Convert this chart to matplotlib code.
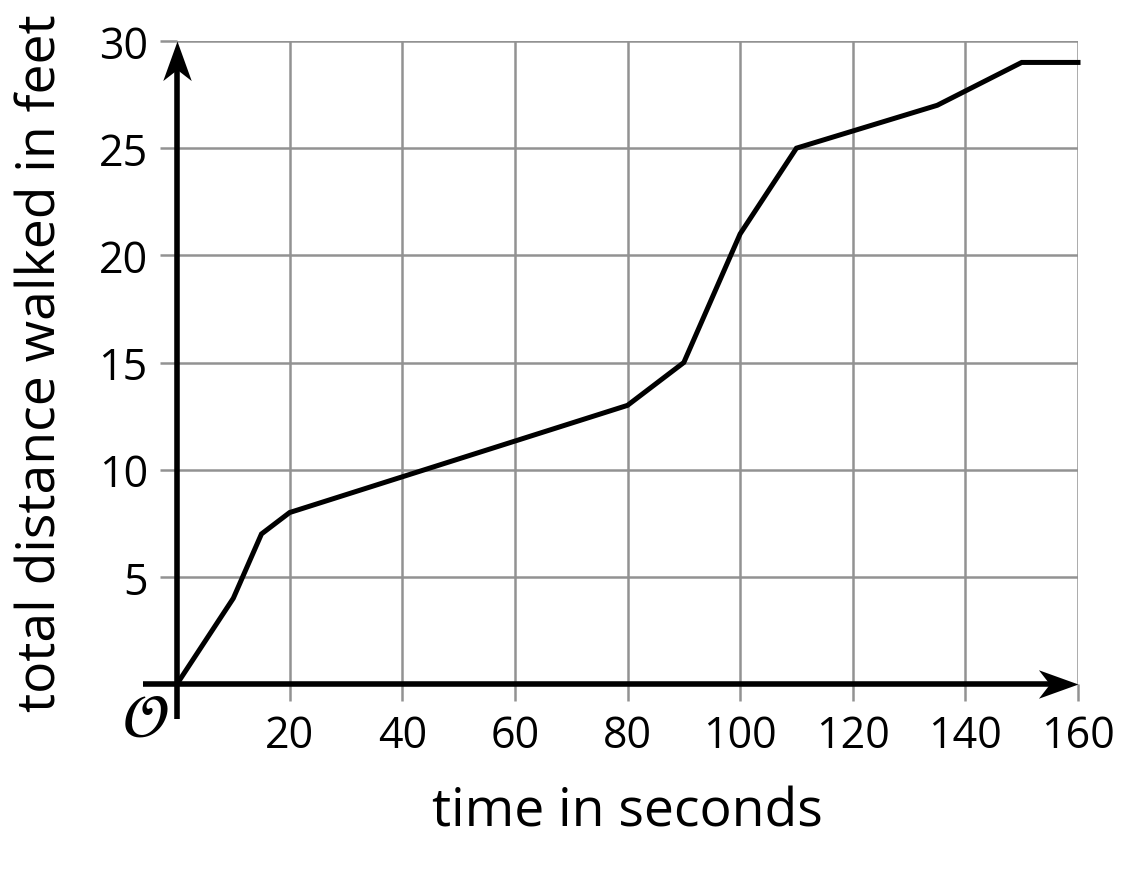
import matplotlib
matplotlib.use("Agg")
import matplotlib.pyplot as plt
from matplotlib.path import Path

plt.rcParams['font.family'] = ['Open Sans', 'DejaVu Sans']

time_s = [0, 10, 15, 20, 80, 90, 100, 110, 135, 150, 160]
distance_ft = [0, 4, 7, 8, 13, 15, 21, 25, 27, 29, 29]
x_ticks = [20, 40, 60, 80, 100, 120, 140, 160]
y_ticks = [5, 10, 15, 20, 25, 30]
x_label = "time in seconds"
y_label = "total distance walked in feet"

fig = plt.figure(figsize=(11.48, 8.7), dpi=100)
ax = fig.add_axes([177/1148, 1 - 685/870, (1078 - 177)/1148, (685 - 42)/870])
ax.set_xlim(0, 160)
ax.set_ylim(0, 30)

for s in ax.spines.values():
    s.set_visible(False)

grid_c = '#929292'
for xv in x_ticks:
    ax.axvline(xv, color=grid_c, lw=1.8, zorder=1)
for yv in y_ticks:
    ax.axhline(yv, color=grid_c, lw=1.8, zorder=1)

ax.set_xticks(x_ticks)
ax.set_yticks(y_ticks)
ax.tick_params(axis='both', direction='out', length=12, width=1.8, color=grid_c,
               labelsize=31, pad=9)

# axes lines
ax.plot([-6, 157], [0, 0], color='black', lw=4, solid_capstyle='butt', clip_on=False, zorder=4)
ax.plot([0, 0], [-1.63, 29.3], color='black', lw=4, solid_capstyle='butt', clip_on=False, zorder=4)

# notched arrowheads (tip at origin of marker path)
hx = Path([(0, 0), (-1, 0.36), (-0.72, 0), (-1, -0.36), (0, 0)],
          [Path.MOVETO, Path.LINETO, Path.LINETO, Path.LINETO, Path.CLOSEPOLY])
hy = Path([(0, 0), (0.36, -1), (0, -0.72), (-0.36, -1), (0, 0)],
          [Path.MOVETO, Path.LINETO, Path.LINETO, Path.LINETO, Path.CLOSEPOLY])
ax.plot([160], [0], marker=hx, markersize=57, color='black', markeredgewidth=0,
        clip_on=False, zorder=6)
ax.plot([0], [30], marker=hy, markersize=57, color='black', markeredgewidth=0,
        clip_on=False, zorder=6)

ax.plot(time_s, distance_ft, color='black', lw=3.6, solid_joinstyle='miter', zorder=5,
        clip_on=False)

ax.text(-5.6, -1.65, r'$\mathcal{O}$', fontsize=44, ha='center', va='center')

ax.set_xlabel(x_label, fontsize=38.5, labelpad=20)
ax.set_ylabel(y_label, fontsize=38.5, labelpad=22)

fig.savefig('out.png', dpi=100)
